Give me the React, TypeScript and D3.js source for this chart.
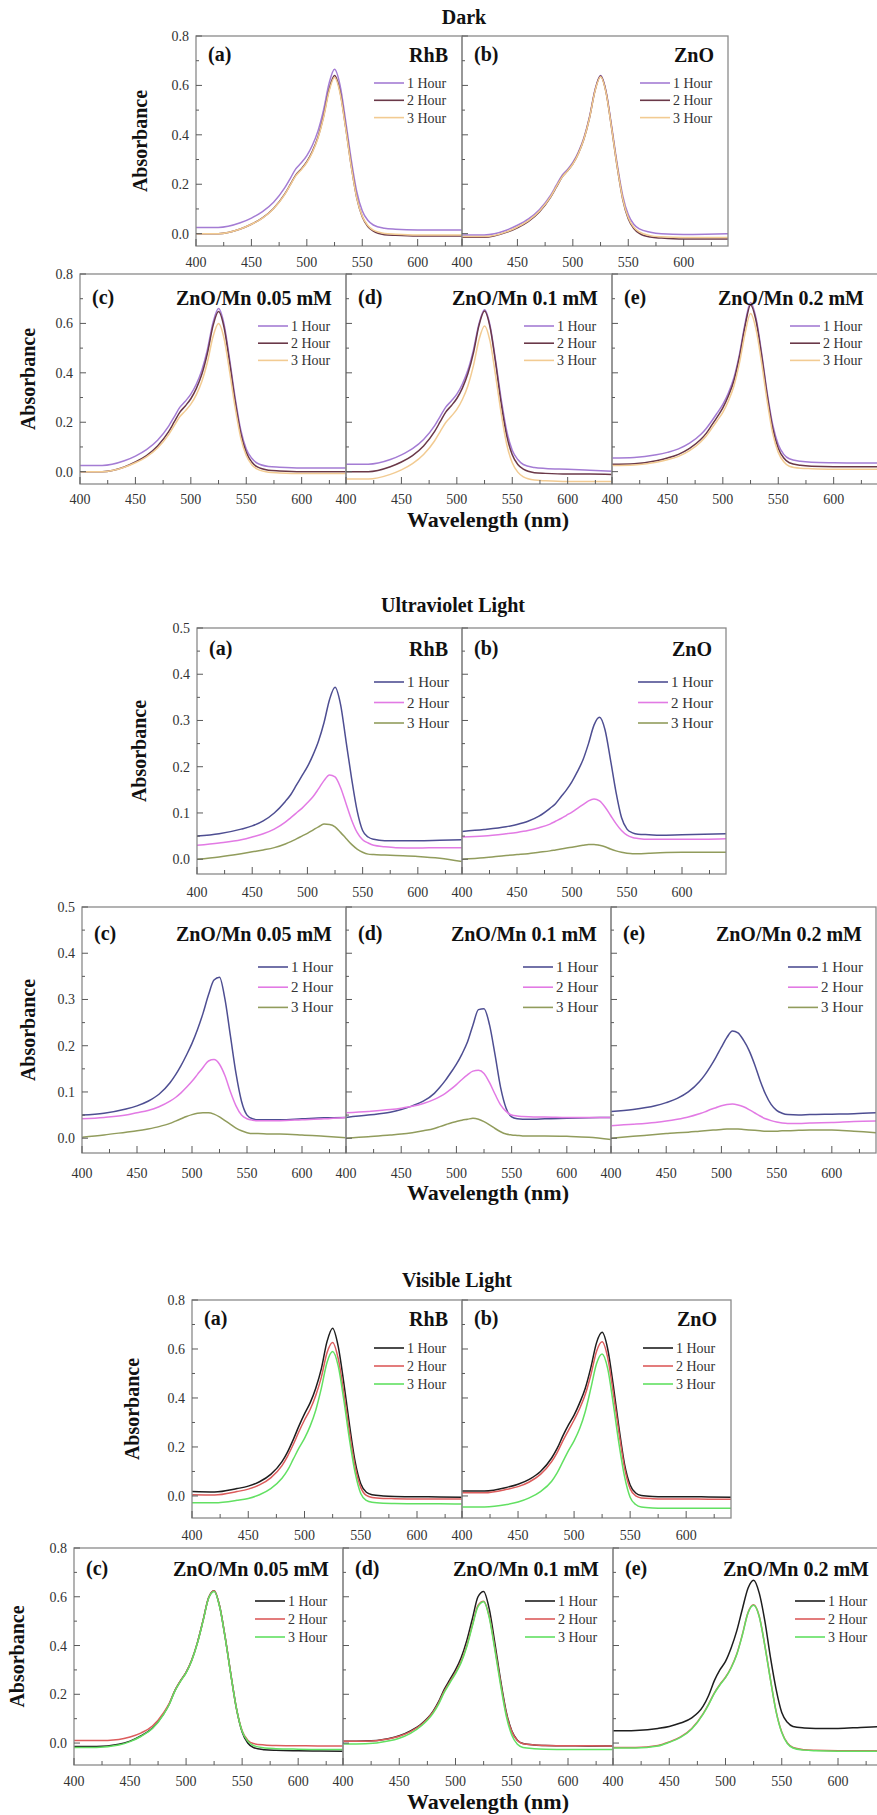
import React from 'react';
import * as d3 from 'd3';

const wavelength = [400, 420, 440, 450, 460, 470, 480, 485, 490, 495, 500, 505, 510, 515, 520, 525, 530, 535, 540, 545, 550, 555, 560, 570, 580, 600, 620, 640];

const hourLabels = ['1 Hour', '2 Hour', '3 Hour'];
const sectionTitles = ['Dark', 'Ultraviolet Light', 'Visible Light'];
const panelTags = ['(a)', '(b)', '(c)', '(d)', '(e)'];
const sampleNames = ['RhB', 'ZnO', 'ZnO/Mn 0.05 mM', 'ZnO/Mn 0.1 mM', 'ZnO/Mn 0.2 mM'];
const xTickLabels = [400, 450, 500, 550, 600];
const xMinorTicks = [425, 475, 525, 575, 625];
const darkTicks = [0, 0.2, 0.4, 0.6, 0.8];
const uvTicks = [0, 0.1, 0.2, 0.3, 0.4, 0.5];

// Dark: 1 / 2 / 3 Hour
const darkRhB = [
  [0.025, 0.025, 0.044, 0.063, 0.089, 0.127, 0.185, 0.223, 0.262, 0.287, 0.316, 0.358, 0.415, 0.499, 0.607, 0.665, 0.600, 0.457, 0.301, 0.171, 0.093, 0.054, 0.035, 0.022, 0.018, 0.015, 0.015, 0.015],
  [0, 0, 0.019, 0.038, 0.064, 0.102, 0.160, 0.198, 0.237, 0.262, 0.291, 0.333, 0.390, 0.474, 0.582, 0.640, 0.575, 0.432, 0.276, 0.146, 0.068, 0.029, 0.010, -0.004, -0.007, -0.010, -0.010, -0.010],
  [0, 0, 0.019, 0.038, 0.063, 0.101, 0.158, 0.196, 0.234, 0.259, 0.288, 0.329, 0.386, 0.468, 0.575, 0.632, 0.568, 0.428, 0.274, 0.146, 0.071, 0.033, 0.014, 0.001, -0.002, -0.005, -0.005, -0.005],
];
const darkZnO = [
  [-0.005, -0.005, 0.014, 0.034, 0.060, 0.098, 0.156, 0.195, 0.234, 0.259, 0.288, 0.330, 0.388, 0.472, 0.582, 0.640, 0.576, 0.435, 0.282, 0.154, 0.077, 0.038, 0.019, 0.006, 0.000, -0.003, -0.002, 0.000],
  [-0.015, -0.015, 0.005, 0.024, 0.050, 0.089, 0.148, 0.187, 0.227, 0.253, 0.282, 0.325, 0.383, 0.468, 0.579, 0.638, 0.572, 0.427, 0.271, 0.139, 0.060, 0.021, 0.001, -0.014, -0.018, -0.022, -0.022, -0.022],
  [-0.012, -0.012, 0.007, 0.027, 0.053, 0.092, 0.150, 0.189, 0.227, 0.253, 0.282, 0.324, 0.383, 0.467, 0.577, 0.635, 0.570, 0.427, 0.272, 0.142, 0.065, 0.026, 0.007, -0.008, -0.013, -0.016, -0.016, -0.016],
];
const darkMn005 = [
  [0.025, 0.025, 0.044, 0.063, 0.089, 0.127, 0.184, 0.222, 0.260, 0.285, 0.314, 0.355, 0.412, 0.495, 0.603, 0.660, 0.596, 0.454, 0.299, 0.170, 0.092, 0.054, 0.034, 0.021, 0.018, 0.015, 0.015, 0.015],
  [0, 0, 0.019, 0.039, 0.065, 0.104, 0.162, 0.201, 0.240, 0.266, 0.295, 0.337, 0.395, 0.480, 0.590, 0.648, 0.583, 0.441, 0.285, 0.156, 0.078, 0.039, 0.019, 0.006, 0.003, 0, 0, 0],
  [0, 0, 0.018, 0.036, 0.060, 0.096, 0.150, 0.186, 0.222, 0.246, 0.273, 0.312, 0.366, 0.444, 0.546, 0.600, 0.539, 0.405, 0.259, 0.138, 0.065, 0.028, 0.010, -0.002, -0.005, -0.008, -0.008, -0.008],
];
const darkMn01 = [
  [0.030, 0.030, 0.049, 0.068, 0.093, 0.130, 0.186, 0.224, 0.261, 0.286, 0.314, 0.355, 0.411, 0.493, 0.599, 0.655, 0.591, 0.449, 0.294, 0.165, 0.087, 0.049, 0.029, 0.017, 0.013, 0.010, 0.006, 0.002],
  [0, 0, 0.020, 0.039, 0.065, 0.104, 0.163, 0.202, 0.241, 0.267, 0.296, 0.338, 0.397, 0.481, 0.592, 0.650, 0.584, 0.440, 0.276, 0.146, 0.068, 0.029, 0.010, -0.004, -0.007, -0.010, -0.010, -0.012],
  [-0.030, -0.030, -0.011, 0.007, 0.032, 0.069, 0.125, 0.162, 0.199, 0.224, 0.252, 0.292, 0.348, 0.429, 0.534, 0.590, 0.527, 0.388, 0.237, 0.111, 0.036, -0.002, -0.021, -0.034, -0.037, -0.040, -0.040, -0.040],
];
const darkMn02 = [
  [0.055, 0.057, 0.068, 0.078, 0.092, 0.115, 0.150, 0.175, 0.205, 0.238, 0.272, 0.318, 0.380, 0.475, 0.598, 0.685, 0.620, 0.480, 0.320, 0.190, 0.110, 0.070, 0.052, 0.042, 0.038, 0.036, 0.035, 0.035],
  [0.030, 0.032, 0.044, 0.055, 0.070, 0.094, 0.130, 0.155, 0.188, 0.222, 0.258, 0.306, 0.368, 0.465, 0.588, 0.675, 0.610, 0.470, 0.310, 0.175, 0.095, 0.055, 0.036, 0.026, 0.022, 0.020, 0.020, 0.020],
  [0.025, 0.027, 0.038, 0.048, 0.062, 0.085, 0.120, 0.144, 0.175, 0.207, 0.240, 0.286, 0.347, 0.440, 0.558, 0.640, 0.575, 0.440, 0.285, 0.155, 0.078, 0.040, 0.022, 0.014, 0.012, 0.010, 0.010, 0.010],
];

// Ultraviolet light
const uvRhB = [
  [0.050, 0.055, 0.065, 0.072, 0.083, 0.100, 0.125, 0.140, 0.160, 0.180, 0.200, 0.225, 0.255, 0.295, 0.345, 0.372, 0.335, 0.255, 0.175, 0.105, 0.062, 0.048, 0.043, 0.040, 0.040, 0.040, 0.041, 0.042],
  [0.030, 0.035, 0.042, 0.048, 0.055, 0.065, 0.080, 0.090, 0.100, 0.110, 0.122, 0.135, 0.152, 0.170, 0.182, 0.178, 0.155, 0.120, 0.085, 0.058, 0.042, 0.035, 0.030, 0.027, 0.025, 0.024, 0.025, 0.025],
  [0.000, 0.005, 0.012, 0.016, 0.020, 0.025, 0.033, 0.038, 0.044, 0.050, 0.056, 0.063, 0.070, 0.076, 0.075, 0.070, 0.058, 0.045, 0.032, 0.022, 0.015, 0.011, 0.010, 0.009, 0.008, 0.006, 0.002, -0.005],
];
const uvZnO = [
  [0.060, 0.064, 0.070, 0.075, 0.082, 0.093, 0.110, 0.120, 0.135, 0.150, 0.168, 0.190, 0.215, 0.250, 0.290, 0.307, 0.280, 0.215, 0.145, 0.090, 0.065, 0.057, 0.054, 0.053, 0.052, 0.053, 0.054, 0.055],
  [0.048, 0.050, 0.055, 0.058, 0.062, 0.068, 0.076, 0.082, 0.088, 0.095, 0.102, 0.110, 0.118, 0.126, 0.130, 0.126, 0.113, 0.095, 0.077, 0.062, 0.052, 0.047, 0.045, 0.043, 0.043, 0.043, 0.043, 0.044],
  [0.000, 0.003, 0.008, 0.010, 0.012, 0.015, 0.018, 0.020, 0.022, 0.024, 0.026, 0.028, 0.030, 0.032, 0.032, 0.030, 0.027, 0.022, 0.018, 0.015, 0.013, 0.012, 0.012, 0.013, 0.014, 0.015, 0.015, 0.015],
];
const uvMn005 = [
  [0.050, 0.054, 0.063, 0.070, 0.080, 0.095, 0.120, 0.137, 0.157, 0.180, 0.205, 0.235, 0.270, 0.310, 0.342, 0.348, 0.300, 0.220, 0.140, 0.080, 0.050, 0.042, 0.040, 0.040, 0.040, 0.042, 0.044, 0.045],
  [0.042, 0.045, 0.050, 0.055, 0.060, 0.068, 0.080, 0.088, 0.098, 0.110, 0.123, 0.138, 0.153, 0.167, 0.170, 0.160, 0.135, 0.100, 0.070, 0.050, 0.042, 0.039, 0.038, 0.038, 0.038, 0.040, 0.042, 0.045],
  [0.002, 0.007, 0.013, 0.016, 0.020, 0.025, 0.032, 0.037, 0.042, 0.047, 0.051, 0.054, 0.055, 0.055, 0.052, 0.046, 0.038, 0.030, 0.022, 0.016, 0.012, 0.010, 0.010, 0.009, 0.009, 0.007, 0.004, 0.001],
];
const uvMn01 = [
  [0.045, 0.050, 0.056, 0.062, 0.070, 0.080, 0.097, 0.110, 0.125, 0.142, 0.160, 0.182, 0.208, 0.245, 0.278, 0.280, 0.245, 0.180, 0.110, 0.065, 0.046, 0.042, 0.041, 0.041, 0.042, 0.043, 0.044, 0.045],
  [0.055, 0.058, 0.062, 0.065, 0.069, 0.075, 0.084, 0.090, 0.097, 0.106, 0.116, 0.127, 0.137, 0.145, 0.147, 0.140, 0.120, 0.095, 0.072, 0.058, 0.050, 0.048, 0.047, 0.046, 0.046, 0.045, 0.045, 0.045],
  [0.000, 0.003, 0.007, 0.009, 0.012, 0.016, 0.021, 0.025, 0.029, 0.033, 0.036, 0.039, 0.041, 0.043, 0.041, 0.036, 0.029, 0.021, 0.014, 0.009, 0.007, 0.006, 0.005, 0.005, 0.005, 0.004, 0.002, -0.003],
];
const uvMn02 = [
  [0.058, 0.062, 0.070, 0.077, 0.086, 0.100, 0.122, 0.137, 0.155, 0.175, 0.197, 0.218, 0.232, 0.228, 0.212, 0.190, 0.160, 0.125, 0.095, 0.073, 0.060, 0.054, 0.051, 0.050, 0.051, 0.052, 0.053, 0.055],
  [0.027, 0.030, 0.034, 0.037, 0.041, 0.046, 0.053, 0.057, 0.062, 0.066, 0.070, 0.073, 0.074, 0.072, 0.068, 0.062, 0.055, 0.048, 0.042, 0.038, 0.035, 0.033, 0.032, 0.032, 0.033, 0.034, 0.036, 0.037],
  [0.000, 0.004, 0.008, 0.010, 0.012, 0.013, 0.015, 0.016, 0.017, 0.018, 0.019, 0.020, 0.020, 0.020, 0.019, 0.018, 0.017, 0.016, 0.015, 0.015, 0.015, 0.016, 0.016, 0.017, 0.018, 0.018, 0.015, 0.012],
];

// Visible light
const visRhB = [
  [0.018, 0.016, 0.030, 0.040, 0.058, 0.088, 0.140, 0.180, 0.230, 0.285, 0.335, 0.380, 0.440, 0.520, 0.630, 0.685, 0.610, 0.460, 0.290, 0.140, 0.050, 0.015, 0.005, 0.000, -0.002, -0.003, -0.004, -0.005],
  [0.005, 0.004, 0.018, 0.028, 0.045, 0.074, 0.124, 0.163, 0.210, 0.262, 0.310, 0.353, 0.410, 0.485, 0.585, 0.627, 0.560, 0.420, 0.260, 0.120, 0.035, 0.002, -0.006, -0.010, -0.011, -0.012, -0.012, -0.012],
  [-0.028, -0.028, -0.018, -0.010, 0.005, 0.030, 0.072, 0.105, 0.150, 0.195, 0.235, 0.285, 0.350, 0.440, 0.545, 0.590, 0.530, 0.390, 0.230, 0.095, 0.010, -0.018, -0.026, -0.030, -0.031, -0.032, -0.032, -0.033],
];
const visZnO = [
  [0.020, 0.020, 0.035, 0.048, 0.068, 0.100, 0.155, 0.195, 0.245, 0.290, 0.330, 0.380, 0.440, 0.525, 0.625, 0.668, 0.600, 0.450, 0.280, 0.130, 0.045, 0.012, 0.002, -0.002, -0.003, -0.003, -0.004, -0.005],
  [0.013, 0.013, 0.027, 0.038, 0.057, 0.088, 0.140, 0.178, 0.225, 0.268, 0.310, 0.357, 0.415, 0.495, 0.590, 0.630, 0.565, 0.420, 0.260, 0.115, 0.030, 0.000, -0.008, -0.011, -0.012, -0.012, -0.013, -0.013],
  [-0.045, -0.045, -0.035, -0.025, -0.008, 0.018, 0.060, 0.095, 0.140, 0.185, 0.225, 0.275, 0.345, 0.440, 0.540, 0.580, 0.520, 0.375, 0.215, 0.080, -0.005, -0.035, -0.045, -0.049, -0.050, -0.050, -0.050, -0.050],
];
const visMn005 = [
  [-0.014, -0.014, -0.005, 0.008, 0.030, 0.062, 0.120, 0.160, 0.215, 0.255, 0.290, 0.340, 0.410, 0.500, 0.595, 0.625, 0.560, 0.430, 0.280, 0.140, 0.045, 0.000, -0.018, -0.027, -0.030, -0.032, -0.033, -0.034],
  [0.010, 0.010, 0.015, 0.025, 0.042, 0.070, 0.125, 0.163, 0.215, 0.255, 0.290, 0.340, 0.410, 0.500, 0.595, 0.625, 0.560, 0.430, 0.280, 0.140, 0.050, 0.012, -0.002, -0.008, -0.010, -0.011, -0.012, -0.012],
  [-0.018, -0.018, -0.008, 0.006, 0.028, 0.060, 0.118, 0.158, 0.213, 0.253, 0.288, 0.338, 0.408, 0.498, 0.593, 0.622, 0.558, 0.428, 0.278, 0.140, 0.048, 0.008, -0.010, -0.020, -0.023, -0.025, -0.026, -0.026],
];
const visMn01 = [
  [0.007, 0.008, 0.018, 0.030, 0.050, 0.080, 0.130, 0.170, 0.220, 0.260, 0.300, 0.350, 0.420, 0.510, 0.600, 0.622, 0.550, 0.410, 0.260, 0.130, 0.050, 0.012, -0.002, -0.008, -0.010, -0.011, -0.012, -0.012],
  [0.007, 0.007, 0.017, 0.028, 0.047, 0.077, 0.127, 0.165, 0.213, 0.252, 0.290, 0.335, 0.400, 0.485, 0.565, 0.582, 0.520, 0.390, 0.250, 0.125, 0.048, 0.010, -0.003, -0.008, -0.010, -0.011, -0.011, -0.012],
  [-0.004, -0.003, 0.008, 0.020, 0.040, 0.072, 0.122, 0.160, 0.208, 0.247, 0.285, 0.330, 0.395, 0.480, 0.560, 0.580, 0.515, 0.382, 0.240, 0.113, 0.033, -0.005, -0.018, -0.023, -0.025, -0.026, -0.026, -0.026],
];
const visMn02 = [
  [0.050, 0.052, 0.060, 0.068, 0.082, 0.103, 0.150, 0.195, 0.255, 0.300, 0.335, 0.390, 0.460, 0.550, 0.635, 0.668, 0.615, 0.500, 0.350, 0.220, 0.125, 0.085, 0.068, 0.062, 0.060, 0.060, 0.064, 0.068],
  [-0.018, -0.018, -0.010, 0.005, 0.025, 0.060, 0.120, 0.160, 0.205, 0.240, 0.270, 0.310, 0.365, 0.445, 0.535, 0.567, 0.520, 0.400, 0.260, 0.130, 0.045, 0.000, -0.018, -0.027, -0.030, -0.032, -0.032, -0.032],
  [-0.020, -0.020, -0.012, 0.003, 0.023, 0.058, 0.118, 0.158, 0.203, 0.238, 0.268, 0.308, 0.363, 0.443, 0.533, 0.565, 0.518, 0.398, 0.258, 0.128, 0.043, -0.002, -0.020, -0.029, -0.032, -0.034, -0.034, -0.034],
];

const sectionData = [
  [darkRhB, darkZnO, darkMn005, darkMn01, darkMn02],
  [uvRhB, uvZnO, uvMn005, uvMn01, uvMn02],
  [visRhB, visZnO, visMn005, visMn01, visMn02],
];
const sectionColors = [
  ['#a47cd4', '#6a3848', '#f2cb92'],
  ['#4e4e92', '#e27ae4', '#919c5c'],
  ['#1e1e1e', '#dc5c5c', '#62e062'],
];

// layout (pixels)
const titlePos = [{ x: 464, y: 24 }, { x: 453, y: 612 }, { x: 457, y: 1287 }];
const wavelengthY = [527, 1200, 1809];

const rows = [
  { section: 0, top: 36, bottom: 246, ymin: -0.05, ymax: 0.8, majors: darkTicks, minor: 0.1, cols: [196, 462, 728], ids: [0, 1], absX: 140, tagDy: 25, legDy: 47, legStep: 17.3, legFont: 14, tickDy: 21 },
  { section: 0, top: 274, bottom: 484, ymin: -0.05, ymax: 0.8, majors: darkTicks, minor: 0.1, cols: [80, 346, 612, 878], ids: [2, 3, 4], absX: 28, tagDy: 30, legDy: 52, legStep: 17.2, legFont: 14, tickDy: 20 },
  { section: 1, top: 628, bottom: 874, ymin: -0.032, ymax: 0.5, majors: uvTicks, minor: 0.05, cols: [197, 462, 726], ids: [0, 1], absX: 139, tagDy: 27, legDy: 54, legStep: 20.5, legFont: 15, tickDy: 23 },
  { section: 1, top: 907, bottom: 1153, ymin: -0.032, ymax: 0.5, majors: uvTicks, minor: 0.05, cols: [82, 346, 611, 876], ids: [2, 3, 4], absX: 28, tagDy: 33, legDy: 60, legStep: 20.2, legFont: 15, tickDy: 25 },
  { section: 2, top: 1300, bottom: 1518, ymin: -0.09, ymax: 0.8, majors: darkTicks, minor: 0.1, cols: [192, 462, 731], ids: [0, 1], absX: 132, tagDy: 25, legDy: 48, legStep: 18, legFont: 14, tickDy: 22 },
  { section: 2, top: 1548, bottom: 1765, ymin: -0.09, ymax: 0.8, majors: darkTicks, minor: 0.1, cols: [74, 343, 613, 883], ids: [2, 3, 4], absX: 17, tagDy: 27, legDy: 53, legStep: 18, legFont: 14, tickDy: 21 },
];

const serif = 'Liberation Serif, Times New Roman, DejaVu Serif, serif';
const frameColor = '#8a8a8a';
const tickColor = '#5a5a5a';
const fmt = d3.format('.1f');

function Panel({ row, ri, pi }) {
  const left = row.cols[pi];
  const right = row.cols[pi + 1];
  const id = row.ids[pi];
  const series = sectionData[row.section][id];
  const colors = sectionColors[row.section];
  const x = d3.scaleLinear().domain([400, 640]).range([left, right]);
  const y = d3.scaleLinear().domain([row.ymin, row.ymax]).range([row.bottom, row.top]);
  const line = d3.line<number>()
    .x((_, i) => x(wavelength[i]))
    .y(v => y(v))
    .curve(d3.curveMonotoneX);
  const clipId = `clip-${ri}-${pi}`;
  const minors = d3.range(0, row.ymax + 1e-9, row.minor);

  return (
    <g>
      <defs>
        <clipPath id={clipId}>
          <rect x={left} y={row.top} width={right - left} height={row.bottom - row.top} />
        </clipPath>
      </defs>
      <g clipPath={`url(#${clipId})`}>
        {series.map((s, k) => (
          <path key={k} d={line(s) || ''} fill="none" stroke={colors[k]} strokeWidth={1.5} />
        ))}
      </g>
      <rect x={left} y={row.top} width={right - left} height={row.bottom - row.top}
        fill="none" stroke={frameColor} strokeWidth={1.3} />
      {/* x ticks, pointing inward */}
      {xTickLabels.map(t => (
        <line key={'M' + t} x1={x(t)} x2={x(t)} y1={row.bottom} y2={row.bottom - 7} stroke={tickColor} strokeWidth={1} />
      ))}
      {xMinorTicks.map(t => (
        <line key={'m' + t} x1={x(t)} x2={x(t)} y1={row.bottom} y2={row.bottom - 4} stroke={tickColor} strokeWidth={1} />
      ))}
      {xTickLabels.map(t => (
        <text key={'l' + t} x={x(t)} y={row.bottom + row.tickDy} textAnchor="middle" fontSize={14} fill="#333">{t}</text>
      ))}
      {/* y ticks */}
      {minors.map((t, k) => {
        const major = row.majors.some(m => Math.abs(m - t) < 1e-6);
        return (
          <line key={'y' + k} x1={left} x2={left + (major ? 6 : 3)} y1={y(t)} y2={y(t)} stroke={tickColor} strokeWidth={1} />
        );
      })}
      {pi === 0 && row.majors.map(t => (
        <text key={'yl' + t} x={left - 7} y={y(t) + 5} textAnchor="end" fontSize={14} fill="#333">{fmt(t)}</text>
      ))}
      <text x={left + 12} y={row.top + row.tagDy} fontSize={20} fontWeight="bold" fill="#111">{panelTags[id]}</text>
      <text x={right - 14} y={row.top + row.tagDy + 1} fontSize={20} fontWeight="bold" fill="#111" textAnchor="end">{sampleNames[id]}</text>
      {hourLabels.map((h, k) => {
        const ly = row.top + row.legDy + k * row.legStep;
        return (
          <g key={h}>
            <line x1={right - 88} x2={right - 58} y1={ly} y2={ly} stroke={colors[k]} strokeWidth={1.6} />
            <text x={right - 55} y={ly + 5} fontSize={row.legFont} fill="#333">{h}</text>
          </g>
        );
      })}
    </g>
  );
}

export default function App() {
  return (
    <svg width={877} height={1815} style={{ position: 'absolute', left: 0, top: 0, background: '#fff', fontFamily: serif }}
      fontFamily={serif}>
      {sectionTitles.map((t, i) => (
        <text key={t} x={titlePos[i].x} y={titlePos[i].y} textAnchor="middle" fontSize={20} fontWeight="bold" fill="#111">{t}</text>
      ))}
      {wavelengthY.map((wy, i) => (
        <text key={'w' + i} x={488} y={wy} textAnchor="middle" fontSize={22} fontWeight="bold" fill="#111">Wavelength (nm)</text>
      ))}
      {rows.map((row, ri) => (
        <g key={ri}>
          <text transform={`translate(${row.absX + 7},${(row.top + row.bottom) / 2}) rotate(-90)`}
            textAnchor="middle" fontSize={20} fontWeight="bold" fill="#111">Absorbance</text>
          {row.ids.map((_, pi) => (
            <Panel key={pi} row={row} ri={ri} pi={pi} />
          ))}
        </g>
      ))}
    </svg>
  );
}
